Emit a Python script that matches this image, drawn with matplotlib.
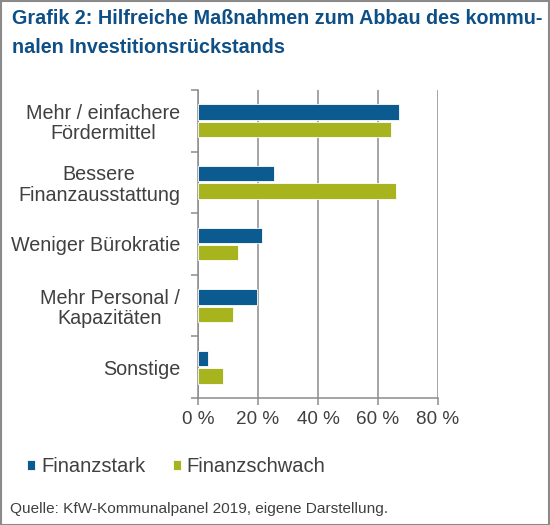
import numpy as np
import matplotlib
matplotlib.use("Agg")
import matplotlib.pyplot as plt
from matplotlib.patches import Rectangle

# ── DATA ──────────────────────────────────────
kategorien = ["Mehr / einfachere\nFördermittel",
              "Bessere\nFinanzausstattung",
              "Weniger Bürokratie",
              "Mehr Personal /\nKapazitäten",
              "Sonstige"]
finanzstark   = [67.1, 25.3, 21.4, 19.8, 3.2]
finanzschwach = [64.3, 66.0, 13.2, 11.6, 8.2]
x_ticks  = [0, 20, 40, 60, 80]
x_labels = ["0 %", "20 %", "40 %", "60 %", "80 %"]

# ── STYLE ─────────────────────────────────────
CLR_BLUE  = '#0b5a90'
CLR_GREEN = '#a8b41e'
CLR_TITLE = '#0e4f86'
CLR_TEXT  = '#404040'
CLR_GRID  = '#8c8c8c'
plt.rcParams['font.family'] = ['Liberation Sans', 'DejaVu Sans']

W, H = 550, 525
fig = plt.figure(figsize=(W / 100, H / 100), dpi=100)
fig.patch.set_facecolor('white')

ax = fig.add_axes([198 / W, 1 - 398 / H, 240 / W, 308 / H])

y = np.arange(len(kategorien))
bh = 0.25
ax.barh(y - 0.142, finanzstark, height=bh, color=CLR_BLUE,
        edgecolor='white', linewidth=0.6, zorder=3, label='Finanzstark')
ax.barh(y + 0.142, finanzschwach, height=bh, color=CLR_GREEN,
        edgecolor='white', linewidth=0.6, zorder=3, label='Finanzschwach')

ax.set_xlim(0, 80)
ax.set_ylim(len(kategorien) - 0.5, -0.5)
ax.set_xticks(x_ticks)
ax.set_xticklabels(x_labels)
ax.set_yticks(y)
ax.set_yticklabels(kategorien, multialignment='center', linespacing=1.1)
ax.set_yticks(np.arange(len(kategorien) + 1) - 0.5, minor=True)

ax.tick_params(axis='y', which='major', length=0, pad=13,
               labelsize=14.2, labelcolor=CLR_TEXT)
ax.tick_params(axis='y', which='minor', length=5, width=1.1, color=CLR_GRID)
ax.tick_params(axis='x', length=5, width=1.1, color=CLR_GRID,
               labelsize=13.6, labelcolor=CLR_TEXT, pad=4)

ax.grid(axis='x', color=CLR_GRID, linewidth=1.1, zorder=0)
ax.set_axisbelow(True)
for s in ['top', 'right']:
    ax.spines[s].set_visible(False)
for s in ['left', 'bottom']:
    ax.spines[s].set_color(CLR_GRID)
    ax.spines[s].set_linewidth(1.1)

# ── TITEL ─────────────────────────────────────
fig.text(12 / W, 1 - 24.5 / H, "Grafik 2: Hilfreiche Maßnahmen zum Abbau des kommu-",
         fontsize=14.2, fontweight='bold', color=CLR_TITLE, va='baseline')
fig.text(12 / W, 1 - 53 / H, "nalen Investitionsrückstands",
         fontsize=14.2, fontweight='bold', color=CLR_TITLE, va='baseline')

# ── LEGENDE ───────────────────────────────────
leg = fig.legend(loc='center left', bbox_to_anchor=(27 / W, 1 - 467 / H),
                 ncol=2, frameon=False, fontsize=14.5, handlelength=0.4,
                 handleheight=0.4, handletextpad=0.3, columnspacing=1.35,
                 borderpad=0, borderaxespad=0, labelcolor=CLR_TEXT)

# ── QUELLE ────────────────────────────────────
fig.text(10 / W, 1 - 513 / H, "Quelle: KfW-Kommunalpanel 2019, eigene Darstellung.",
         fontsize=11.1, color=CLR_TEXT, va='baseline')

# ── RAHMEN ────────────────────────────────────
fig.patches.append(Rectangle((0.5 / W, 0.5 / H), 1 - 1.5 / W, 1 - 1.5 / H,
                             transform=fig.transFigure, fill=False,
                             edgecolor='#8a8a8a', linewidth=1.5))

plt.savefig("out.png", dpi=100, facecolor='white')
